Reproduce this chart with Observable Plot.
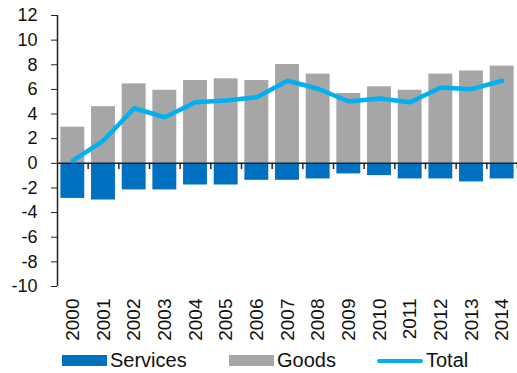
<!DOCTYPE html>
<html>
<head>
<meta charset="utf-8">
<script src="https://cdn.jsdelivr.net/npm/d3@7"></script>
<script src="https://cdn.jsdelivr.net/npm/@observablehq/plot@0.6"></script>
<style>
  html, body { margin: 0; padding: 0; background: #fff; }
  body { width: 517px; height: 373px; overflow: hidden; font-family: "Liberation Sans", Arial, sans-serif; }
  #legend { position: relative; height: 25px; font-size: 20px; color: #111; }
  .item { position: absolute; top: 0; height: 25px; display: flex; align-items: center; }
  .sw { display: inline-block; width: 45px; height: 11px; margin-right: 3px; }
  .ln { display: inline-block; width: 46px; height: 4px; border-radius: 2px; margin-right: 3px; }
</style>
</head>
<body>
<div id="chart"></div>
<div id="legend"></div>
<script>
const years = [2000, 2001, 2002, 2003, 2004, 2005, 2006, 2007, 2008, 2009, 2010, 2011, 2012, 2013, 2014];
const goods = [2.93, 4.6, 6.45, 5.93, 6.72, 6.86, 6.72, 8.02, 7.24, 5.67, 6.21, 5.93, 7.24, 7.5, 7.89];
const services = [-2.85, -2.98, -2.16, -2.16, -1.76, -1.76, -1.38, -1.38, -1.27, -0.86, -1.0, -1.27, -1.27, -1.51, -1.27];
const total = [0.22, 1.85, 4.47, 3.74, 4.96, 5.1, 5.37, 6.7, 6.05, 5.02, 5.26, 4.96, 6.15, 6.02, 6.7];
const yTicks = [-10, -8, -6, -4, -2, 0, 2, 4, 6, 8, 10, 12];

const colors = { services: "#0070C0", goods: "#A6A6A6", total: "#00B0F0" };

const rows = years.map((y, i) => ({ year: y, goods: goods[i], services: services[i], total: total[i] }));
const xDomain = [years[0] - 0.5, years[years.length - 1] + 0.5];
const half = 0.39;
const boundaries = years.map(y => y + 0.5);

const chart = Plot.plot({
  width: 517,
  height: 348,
  marginLeft: 57,
  marginRight: 0,
  marginTop: 15,
  marginBottom: 62,
  style: { fontFamily: "Liberation Sans, Arial, sans-serif", color: "#111", background: "#fff" },
  x: { domain: xDomain, axis: null, label: null },
  y: { domain: [-10, 12], axis: null, label: null },
  marks: [
    Plot.rectY(rows, { x1: d => d.year - half, x2: d => d.year + half, y1: 0, y2: "goods", fill: colors.goods }),
    Plot.rectY(rows, { x1: d => d.year - half, x2: d => d.year + half, y1: 0, y2: "services", fill: colors.services }),
    Plot.ruleY([0], { stroke: "#222", strokeWidth: 1.5 }),
    Plot.ruleX(boundaries, { y1: 0, y2: -0.5, stroke: "#222", strokeWidth: 1.5 }),
    Plot.ruleX([xDomain[0]], { y1: -10, y2: 12, stroke: "#222", strokeWidth: 1.5 }),
    Plot.line(rows, { x: "year", y: "total", stroke: colors.total, strokeWidth: 4.5, strokeLinecap: "round", strokeLinejoin: "round" }),
    Plot.axisY({ ticks: yTicks, tickSize: 6, tickPadding: 14, fontSize: 18, label: null, tickFormat: d => d < 0 ? "-" + Math.abs(d) : String(d), stroke: "#222" }),
    Plot.axisX({ ticks: years, tickFormat: d => String(d), tickRotate: -90, tickSize: 0, tickPadding: 12, fontSize: 19, label: null })
  ]
});
document.getElementById("chart").appendChild(chart);

const legendItems = [
  { label: "Services", color: colors.services, type: "sw", left: 62 },
  { label: "Goods", color: colors.goods, type: "sw", left: 229 },
  { label: "Total", color: colors.total, type: "ln", left: 377 }
];
const legend = document.getElementById("legend");
for (const it of legendItems) {
  const div = document.createElement("div");
  div.className = "item";
  div.style.left = it.left + "px";
  const s = document.createElement("span");
  s.className = it.type;
  s.style.background = it.color;
  div.appendChild(s);
  div.appendChild(document.createTextNode(it.label));
  legend.appendChild(div);
}
</script>
</body>
</html>
